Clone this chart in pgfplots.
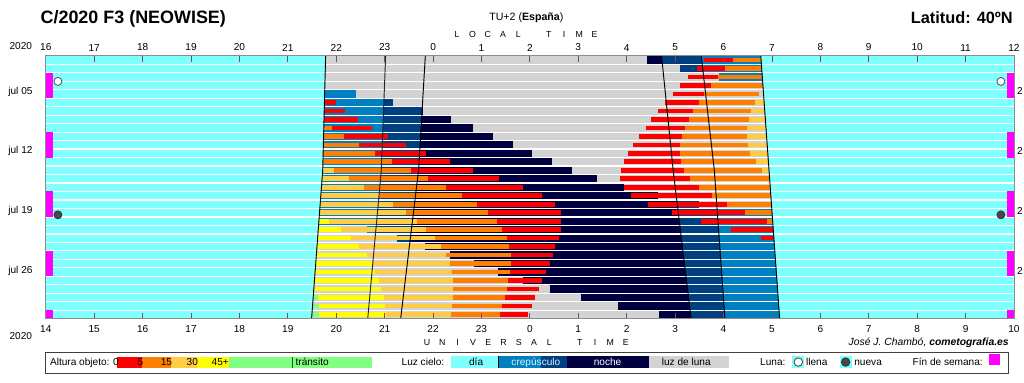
\documentclass[border=0pt]{standalone}
\usepackage{pgfplots}
\pgfplotsset{compat=1.18}
\usepackage{fontspec}
\setmainfont{Liberation Sans}
\definecolor{skyday}{HTML}{80FFFF}
\definecolor{twil}{HTML}{0080C0}
\definecolor{astro}{HTML}{004080}
\definecolor{night}{HTML}{000040}
\definecolor{moonl}{HTML}{D3D3D3}
\definecolor{alt0}{HTML}{FF0000}
\definecolor{alt5}{HTML}{FF8000}
\definecolor{alt15}{HTML}{FFCC44}
\definecolor{alt30}{HTML}{FFFF00}
\definecolor{alt45}{HTML}{80FF80}
\definecolor{wkend}{HTML}{FF00FF}
\definecolor{tickc}{HTML}{8A4848}
\newcommand\tlf{\fontsize{7.6}{9}\selectfont}
\newcommand\spc[1]{\makebox[11.5pt][c]{#1}}
\tikzset{cbar/.style={line width=3.5pt},mbar/.style={moonl,line width=6.45pt},sepl/.style={white,line width=0.9pt}}
% comet altitude segment: colour, day of July, from, to (local hours)
\newcommand\seg[4]{\addplot[cbar,#1,mark=none] coordinates {(#3,#2) (#4,#2)};}
% moonlight: day, from, to
\newcommand\moonup[3]{\addplot[mbar,mark=none] coordinates {(#2,#1) (#3,#1)};}
\newcommand\wk[2]{\addplot[fill=wkend,draw=none] coordinates {(16,#1) (16.15,#1) (16.15,#2) (16,#2)};
  \addplot[fill=wkend,draw=none] coordinates {(35.85,#1) (36,#1) (36,#2) (35.85,#2)};}
\begin{document}
\begin{tikzpicture}
\begin{axis}[
  at={(34.5pt,-240pt)}, anchor=south west,
  scale only axis, width=729pt, height=198pt,
  xmin=16, xmax=36, ymin=0.5, ymax=31.5, y dir=reverse,
  axis on top,
  axis background/.style={fill=skyday},
  axis line style={draw=black!45, line width=0.7pt},
  xtick={16,17,...,36},
  xticklabels={16,17,18,19,20,21,22,23,0,1,2,3,4,5,6,7,8,9,10,11,12},
  xtick pos=both, xticklabel pos=upper,
  tick align=inside, major tick length=4.6pt,
  xtick style={draw=tickc, line width=0.6pt},
  xticklabel style={font=\tlf},
  ytick={4.7,11.74,18.78,25.83},
  yticklabels={jul 05,jul 12,jul 19,jul 26},
  ytick style={draw=none},
  yticklabel style={font=\tlf, xshift=-6.5pt},
]
% twilight / astronomical twilight / night
\addplot[fill=twil,draw=none] coordinates {(21.78,0.5) (21.72,14) (21.49,31.5) (31.16,31.5) (30.94,14) (30.77,0.5)};
\addplot[fill=astro,draw=none] coordinates {(23.02,0.5) (22.93,14) (22.65,31.5) (30.03,31.5) (29.81,14) (29.54,0.5)};
\addplot[fill=night,draw=none] coordinates {(23.84,0.5) (23.70,14) (23.33,31.5) (29.33,31.5) (28.96,14) (28.72,0.5)};
% moonlight
\moonup{1}{21.78}{28.41}
\moonup{2}{21.78}{29.11}
\moonup{3}{21.77}{29.91}
\moonup{4}{21.77}{30.81}
\moonup{5}{22.40}{30.83}
\moonup{6}{23.18}{30.84}
\moonup{7}{23.80}{30.85}
\moonup{8}{24.37}{30.86}
\moonup{9}{24.83}{30.87}
\moonup{10}{25.24}{30.89}
\moonup{11}{25.65}{30.90}
\moonup{12}{26.04}{30.91}
\moonup{13}{26.45}{30.93}
\moonup{14}{26.88}{30.94}
\moonup{15}{27.38}{30.95}
\moonup{16}{27.95}{30.97}
\moonup{17}{28.65}{30.98}
\moonup{18}{29.50}{30.99}
\moonup{21}{21.63}{22.63}
\moonup{22}{21.61}{23.26}
\moonup{23}{21.60}{23.84}
\moonup{24}{21.59}{24.35}
\moonup{25}{21.57}{24.85}
\moonup{26}{21.56}{25.34}
\moonup{27}{21.55}{25.86}
\moonup{28}{21.53}{26.41}
\moonup{29}{21.52}{27.05}
\moonup{30}{21.50}{27.81}
\moonup{31}{21.49}{28.67}
% row separators
\pgfplotsinvokeforeach{1,...,30}{\addplot[sepl,mark=none] coordinates {(16,#1.5) (36,#1.5)};}
% weekends
\wk{2.5}{5.5}
\wk{9.5}{12.5}
\wk{16.5}{19.5}
\wk{23.5}{26.5}
\wk{30.5}{31.5}
% evening comet
\seg{alt0}{6}{21.76}{21.99}
\seg{alt0}{7}{21.75}{22.19}
\seg{alt0}{8}{21.75}{22.44}
\seg{alt5}{9}{21.74}{21.91}\seg{alt0}{9}{21.91}{22.73}
\seg{alt5}{10}{21.74}{22.17}\seg{alt0}{10}{22.17}{23.06}
\seg{alt5}{11}{21.73}{22.48}\seg{alt0}{11}{22.48}{23.45}
\seg{alt5}{12}{21.73}{22.81}\seg{alt0}{12}{22.81}{23.86}
\seg{alt5}{13}{21.72}{23.16}\seg{alt0}{13}{23.16}{24.35}
\seg{alt15}{14}{21.72}{21.95}\seg{alt5}{14}{21.95}{23.55}\seg{alt0}{14}{23.55}{24.83}
\seg{alt15}{15}{21.71}{22.26}\seg{alt5}{15}{22.26}{23.90}\seg{alt0}{15}{23.90}{25.36}
\seg{alt15}{16}{21.69}{22.58}\seg{alt5}{16}{22.58}{24.27}\seg{alt0}{16}{24.27}{25.86}
\seg{alt15}{17}{21.68}{22.89}\seg{alt5}{17}{22.89}{24.60}\seg{alt0}{17}{24.60}{26.25}
\seg{alt15}{18}{21.67}{23.18}\seg{alt5}{18}{23.18}{24.91}\seg{alt0}{18}{24.91}{26.51}
\seg{alt15}{19}{21.65}{23.45}\seg{alt5}{19}{23.45}{25.14}\seg{alt0}{19}{25.14}{26.64}
\seg{alt30}{20}{21.64}{21.86}\seg{alt15}{20}{21.86}{23.67}\seg{alt5}{20}{23.67}{25.32}\seg{alt0}{20}{25.32}{26.64}
\seg{alt30}{21}{21.63}{22.09}\seg{alt15}{21}{22.09}{23.86}\seg{alt5}{21}{23.86}{25.42}\seg{alt0}{21}{25.42}{26.64}
\seg{alt30}{22}{21.61}{22.30}\seg{alt15}{22}{22.30}{24.05}\seg{alt5}{22}{24.05}{25.53}\seg{alt0}{22}{25.53}{26.60}
\seg{alt30}{23}{21.60}{22.46}\seg{alt15}{23}{22.46}{24.17}\seg{alt5}{23}{24.17}{25.57}\seg{alt0}{23}{25.57}{26.51}
\seg{alt30}{24}{21.59}{22.63}\seg{alt15}{24}{22.63}{24.27}\seg{alt5}{24}{24.27}{25.61}\seg{alt0}{24}{25.61}{26.47}
\seg{alt30}{25}{21.57}{22.73}\seg{alt15}{25}{22.73}{24.35}\seg{alt5}{25}{24.35}{25.61}\seg{alt0}{25}{25.61}{26.41}
\seg{alt30}{26}{21.56}{22.81}\seg{alt15}{26}{22.81}{24.40}\seg{alt5}{26}{24.40}{25.59}\seg{alt0}{26}{25.59}{26.33}
\seg{alt30}{27}{21.55}{22.89}\seg{alt15}{27}{22.89}{24.42}\seg{alt5}{27}{24.42}{25.55}\seg{alt0}{27}{25.55}{26.25}
\seg{alt30}{28}{21.53}{22.93}\seg{alt15}{28}{22.93}{24.42}\seg{alt5}{28}{24.42}{25.53}\seg{alt0}{28}{25.53}{26.19}
\seg{alt45}{29}{21.52}{21.62}\seg{alt30}{29}{21.62}{22.98}\seg{alt15}{29}{22.98}{24.42}\seg{alt5}{29}{24.42}{25.49}\seg{alt0}{29}{25.49}{26.10}
\seg{alt45}{30}{21.50}{21.64}\seg{alt30}{30}{21.64}{23.00}\seg{alt15}{30}{23.00}{24.40}\seg{alt5}{30}{24.40}{25.42}\seg{alt0}{30}{25.42}{26.04}
\seg{alt45}{31}{21.49}{21.64}\seg{alt30}{31}{21.64}{23.02}\seg{alt15}{31}{23.02}{24.37}\seg{alt5}{31}{24.37}{25.38}\seg{alt0}{31}{25.38}{25.96}
% morning comet
\seg{alt0}{1}{29.60}{30.20}\seg{alt5}{1}{30.20}{30.77}
\seg{alt0}{2}{29.46}{30.03}\seg{alt5}{2}{30.03}{30.79}
\seg{alt0}{3}{29.27}{29.89}\seg{alt5}{3}{29.89}{30.80}
\seg{alt0}{4}{29.11}{29.74}\seg{alt5}{4}{29.74}{30.81}
\seg{alt0}{5}{28.96}{29.60}\seg{alt5}{5}{29.60}{30.73}
\seg{alt0}{6}{28.80}{29.50}\seg{alt5}{6}{29.50}{30.65}\seg{alt15}{6}{30.65}{30.84}
\seg{alt0}{7}{28.65}{29.37}\seg{alt5}{7}{29.37}{30.57}\seg{alt15}{7}{30.57}{30.85}
\seg{alt0}{8}{28.51}{29.29}\seg{alt5}{8}{29.29}{30.53}\seg{alt15}{8}{30.53}{30.86}
\seg{alt0}{9}{28.39}{29.21}\seg{alt5}{9}{29.21}{30.49}\seg{alt15}{9}{30.49}{30.87}
\seg{alt0}{10}{28.26}{29.15}\seg{alt5}{10}{29.15}{30.49}\seg{alt15}{10}{30.49}{30.89}
\seg{alt0}{11}{28.14}{29.11}\seg{alt5}{11}{29.11}{30.51}\seg{alt15}{11}{30.51}{30.90}
\seg{alt0}{12}{28.02}{29.11}\seg{alt5}{12}{29.11}{30.55}\seg{alt15}{12}{30.55}{30.91}
\seg{alt0}{13}{27.95}{29.13}\seg{alt5}{13}{29.13}{30.67}\seg{alt15}{13}{30.67}{30.93}
\seg{alt0}{14}{27.89}{29.19}\seg{alt5}{14}{29.19}{30.79}\seg{alt15}{14}{30.79}{30.94}
\seg{alt0}{15}{27.87}{29.31}\seg{alt5}{15}{29.31}{30.95}
\seg{alt0}{16}{27.95}{29.50}\seg{alt5}{16}{29.50}{30.97}
\seg{alt0}{17}{28.08}{29.77}\seg{alt5}{17}{29.77}{30.98}
\seg{alt0}{18}{28.43}{30.07}\seg{alt5}{18}{30.07}{30.99}
\seg{alt0}{19}{28.94}{30.44}\seg{alt5}{19}{30.44}{31.00}
\seg{alt0}{20}{29.54}{30.90}\seg{alt5}{20}{30.90}{31.02}
\seg{alt0}{21}{30.16}{31.03}
\seg{alt0}{22}{30.77}{31.04}
% sunset, twilight ends/starts, sunrise
\addplot[black,line width=0.7pt] coordinates {(21.78,0.5) (21.72,14) (21.49,31.5)};
\addplot[black!85,line width=0.7pt] coordinates {(23.02,0.5) (22.93,14) (22.65,31.5)};
\addplot[black,line width=0.7pt] coordinates {(23.84,0.5) (23.70,14) (23.33,31.5)};
\addplot[black,line width=0.7pt] coordinates {(28.72,0.5) (28.96,14) (29.33,31.5)};
\addplot[black,line width=0.7pt] coordinates {(29.54,0.5) (29.81,14) (30.03,31.5)};
\addplot[black,line width=0.7pt] coordinates {(30.77,0.5) (30.94,14) (31.16,31.5)};
% moon phases
\addplot[only marks,mark=*,mark size=3pt,mark options={fill=white,draw=black!70,line width=0.6pt}] coordinates {(16.25,3.52) (35.73,3.52)};
\addplot[only marks,mark=*,mark size=3pt,mark options={fill=black!72,draw=black!80,line width=0.6pt}] coordinates {(16.25,19.25) (35.73,19.25)};
\end{axis}
\begin{axis}[
  at={(34.5pt,-240pt)}, anchor=south west,
  scale only axis, width=729pt, height=198pt,
  xmin=14, xmax=34, ymin=0, ymax=1,
  axis line style={draw=none},
  xtick={14,15,...,34},
  xticklabels={14,15,16,17,18,19,20,21,22,23,0,1,2,3,4,5,6,7,8,9,10},
  xticklabel pos=lower, xtick style={draw=none},
  xticklabel style={font=\tlf, yshift=-1.3pt},
  ytick=\empty,
]
\end{axis}
\begin{scope}[x=0.75pt,y=-0.75pt]
\useasboundingbox (0,0) rectangle (1024,384);
\node[anchor=base west,inner sep=0,font=\bfseries\fontsize{13.5}{15}\selectfont] at (40.5,23.5) {C/2020 F3 (NEOWISE)};
\node[anchor=base east,inner sep=0,font=\bfseries\fontsize{12.3}{14}\selectfont] at (1017,23.3) {Latitud: 40ºN};
\node[anchor=base,inner sep=0,font=\fontsize{8}{9}\selectfont] at (528.5,20.7) {TU+2 (\textbf{España})};
\node[anchor=base,inner sep=0,font=\fontsize{6.6}{8}\selectfont] at (528,37.7) {\spc{L}\spc{O}\spc{C}\spc{A}\spc{L}\spc{}\spc{T}\spc{I}\spc{M}\spc{E}};
\node[anchor=base,inner sep=0,font=\fontsize{6.6}{8}\selectfont] at (528.5,346.7) {\spc{U}\spc{N}\spc{I}\spc{V}\spc{E}\spc{R}\spc{S}\spc{A}\spc{L}\spc{}\spc{T}\spc{I}\spc{M}\spc{E}};
\node[anchor=base west,inner sep=0,font=\tlf] at (9.3,49.3) {2020};
\node[anchor=base west,inner sep=0,font=\tlf] at (9.3,340.7) {2020};
\node[anchor=base east,inner sep=0,font=\itshape\fontsize{7.8}{9}\selectfont] at (1013,347.3) {José J. Chambó, \textbf{cometografia.es}};
\foreach \yy in {91.7,151.7,211.7,271.7} \node[anchor=west,inner sep=0,font=\tlf] at (1021,\yy) {2};
% legend
\draw[black!75,line width=0.6pt,fill=white] (46,353.5) rectangle (1012,375);
\node[anchor=base west,inner sep=0,font=\tlf] at (50,367) {Altura objeto:};
\fill[alt0] (117,358.5) rectangle (143,369);
\fill[alt5] (143,358.5) rectangle (172,369);
\fill[alt15] (172,358.5) rectangle (198,369);
\fill[alt30] (198,358.5) rectangle (230,369);
\fill[alt45] (230,358.5) rectangle (373,369);
\node[anchor=base east,inner sep=0,font=\tlf] at (119.5,367) {0};
\node[anchor=base east,inner sep=0,font=\tlf] at (144,367) {5};
\node[anchor=base east,inner sep=0,font=\tlf] at (173,367) {15};
\node[anchor=base east,inner sep=0,font=\tlf] at (199,367) {30};
\node[anchor=base east,inner sep=0,font=\tlf] at (230,367) {45+};
\draw[green!40!black,line width=0.9pt] (293.5,358.5) -- (293.5,369);
\node[anchor=base west,inner sep=0,font=\tlf] at (296.5,367) {tránsito};
\node[anchor=base west,inner sep=0,font=\tlf] at (403,367) {Luz cielo:};
\fill[skyday] (453,357.5) rectangle (500,369.5);
\fill[twil] (500,357.5) rectangle (543,369.5);
\fill[astro] (543,357.5) rectangle (569,369.5);
\fill[night] (569,357.5) rectangle (652,369.5);
\fill[moonl] (652,357.5) rectangle (732,369.5);
\draw[black,line width=0.7pt] (500.3,357.5) -- (500.3,369.5);
\node[anchor=base,inner sep=0,font=\tlf] at (478,367) {día};
\node[anchor=base,inner sep=0,font=\tlf,text=white!85!cyan] at (538,367) {crepúsculo};
\node[anchor=base,inner sep=0,font=\tlf,text=white] at (610,367) {noche};
\node[anchor=base,inner sep=0,font=\tlf] at (689,367) {luz de luna};
\node[anchor=base west,inner sep=0,font=\tlf] at (763,367) {Luna:};
\fill[skyday] (795.5,357.5) rectangle (807.5,369.5);
\draw[fill=white,draw=black!75,line width=0.6pt] (801.5,363.5) circle[radius=3.2pt];
\node[anchor=base west,inner sep=0,font=\tlf] at (809,367) {llena};
\fill[skyday] (843,357.5) rectangle (855,369.5);
\draw[fill=black!72,draw=black!80,line width=0.6pt] (849,363.5) circle[radius=3.2pt];
\node[anchor=base west,inner sep=0,font=\tlf] at (857.5,367) {nueva};
\node[anchor=base west,inner sep=0,font=\tlf] at (916,367) {Fín de semana:};
\fill[wkend] (993,355) rectangle (1004,366);
\end{scope}
\end{tikzpicture}
\end{document}
